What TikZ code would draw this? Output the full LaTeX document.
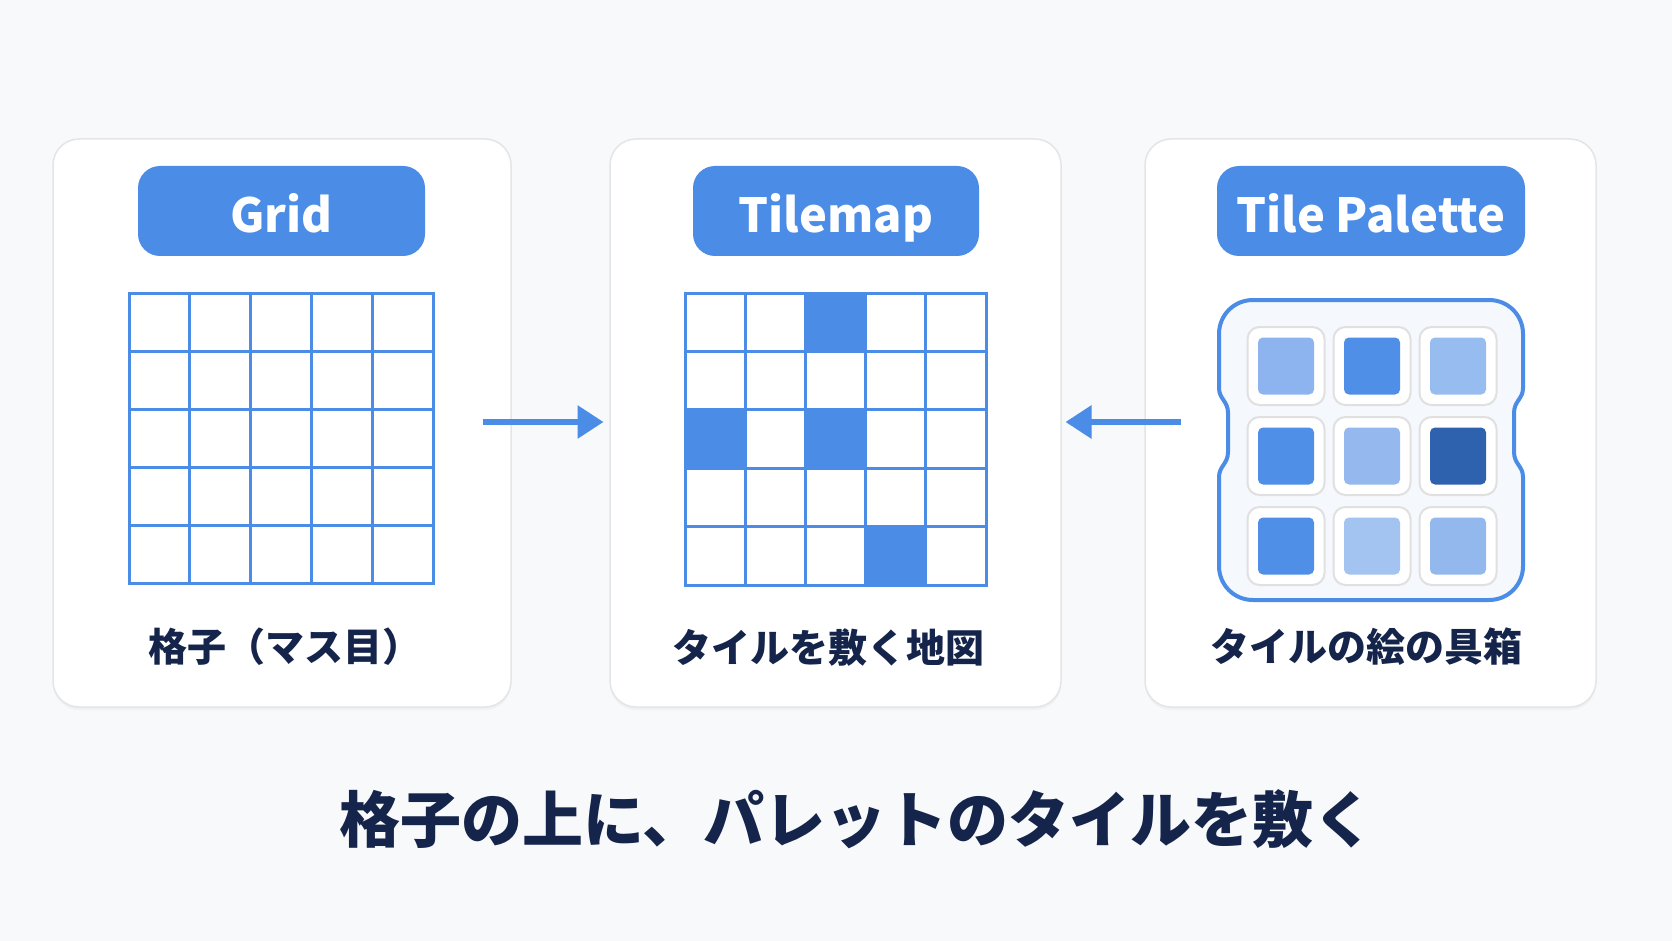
\documentclass[tikz,border=0pt]{standalone}
\usepackage{fontspec}
\setsansfont{Noto Sans}
\newfontfamily\jpfont{Noto Sans CJK JP}
\usepackage{xcolor}
\usetikzlibrary{arrows.meta, positioning, shadows}

\definecolor{bgcol}{HTML}{F8F9FA}
\definecolor{cardline}{HTML}{E3E5E9}
\definecolor{tileblue}{HTML}{4A8CE6}
\definecolor{navytext}{HTML}{14244A}
\definecolor{palfill}{HTML}{F5F8FD}
\definecolor{tileA}{HTML}{8DB4EF}
\definecolor{tileB}{HTML}{4F8FE8}
\definecolor{tileC}{HTML}{97BCEF}
\definecolor{tileD}{HTML}{95B9EE}
\definecolor{tileE}{HTML}{2E61AE}
\definecolor{tileF}{HTML}{A3C3F1}
\definecolor{tileG}{HTML}{93B8EE}

\begin{document}
\begin{tikzpicture}[
                x=1pt, y=-1pt,
                card/.style={rectangle, rounded corners=26pt, draw=cardline, line width=1.5pt, fill=white, minimum height=568pt, drop shadow={opacity=0.06, shadow xshift=0pt, shadow yshift=-3pt}},
                pill/.style={rectangle, rounded corners=22pt, fill=tileblue, text=white, minimum height=90pt, text height=44pt, text depth=0pt, font=\jpfont\bfseries\fontsize{47}{52}\selectfont},
                gridbox/.style={rectangle, draw=tileblue, line width=3pt, inner sep=0pt},
                cell/.style={draw=tileblue, line width=3pt},
                caption/.style={text=navytext, font=\jpfont\bfseries\fontsize{39}{44}\selectfont},
                flow/.style={-{Triangle[length=26pt, width=32pt]}, draw=tileblue, line width=6pt},
                slot/.style={rectangle, rounded corners=12pt, draw=black!12, line width=2pt, fill=white, minimum width=77pt, minimum height=78pt},
                swatch/.style={rectangle, rounded corners=5pt, minimum width=56pt, minimum height=57pt}
                ]
                \useasboundingbox[fill=bgcol] (0,0) rectangle (1672,941);

                % Cards
                \node[card, minimum width=458pt] (gridcard) at (282,423) {};
                \node[card, minimum width=451pt] (mapcard) at (835.5,423) {};
                \node[card, minimum width=451pt] (palcard) at (1370.5,423) {};

                % Titles
                \node[pill, minimum width=287pt] (gridtitle) at (281.5,211) {Grid};
                \node[pill, minimum width=286pt] (maptitle) at (836,211) {Tilemap};
                \node[pill, minimum width=308pt] (paltitle) at (1371,211) {Tile Palette};

                % Empty grid
                \foreach \r in {0,...,4}
                  \foreach \c in {0,...,4}
                    \draw[cell] ({129+\c*60.8},{293+\r*58}) rectangle +(60.8,58);
                \node[gridbox, minimum width=304pt, minimum height=290pt] (grid) at (281,438) {};

                % Tilemap with placed tiles
                \foreach \c/\r in {2/0, 0/2, 2/2, 3/4}
                  \fill[tileblue] ({685+\c*60.2},{293+\r*58.4}) rectangle +(60.2,58.4);
                \foreach \r in {0,...,4}
                  \foreach \c in {0,...,4}
                    \draw[cell] ({685+\c*60.2},{293+\r*58.4}) rectangle +(60.2,58.4);
                \node[gridbox, minimum width=301pt, minimum height=292pt] (map) at (835.5,439) {};

                % Palette frame (notched on both sides)
                \draw[draw=tileblue, line width=4pt, fill=palfill]
                  (1253,300) -- (1489,300) .. controls (1508,300) and (1523,315) .. (1523,334)
                  -- (1523,388) .. controls (1523,399) and (1514,401) .. (1514,413)
                  -- (1514,452) .. controls (1514,464) and (1523,466) .. (1523,477)
                  -- (1523,566) .. controls (1523,585) and (1508,600) .. (1489,600)
                  -- (1253,600) .. controls (1234,600) and (1219,585) .. (1219,566)
                  -- (1219,477) .. controls (1219,466) and (1228,464) .. (1228,452)
                  -- (1228,413) .. controls (1228,401) and (1219,399) .. (1219,388)
                  -- (1219,334) .. controls (1219,315) and (1234,300) .. (1253,300) -- cycle;
                \node[minimum width=304pt, minimum height=300pt] (palette) at (1371,450) {};

                % Palette tiles
                \foreach \col [count=\i from 0] in {tileA, tileB, tileC, tileB, tileD, tileE, tileB, tileF, tileG} {
                  \pgfmathtruncatemacro{\cc}{mod(\i,3)}
                  \pgfmathtruncatemacro{\rr}{int(\i/3)}
                  \node[slot] (slot\i) at ({1286+\cc*86},{366+\rr*90}) {};
                  \node[swatch, fill=\col] at (slot\i) {};
                }

                % Arrows
                \coordinate (arrowrow) at (0,422);
                \draw[flow, shorten <=48pt, shorten >=80pt] (grid.east |- arrowrow) -- (map.west |- arrowrow);
                \draw[flow, shorten <=38pt, shorten >=78pt] (palette.west |- arrowrow) -- (map.east |- arrowrow);

                % Captions
                \node[caption] (gridcap) at (285,647) {格子（マス目）};
                \node[caption] (mapcap) at (828,647) {タイルを敷く地図};
                \node[caption] (palcap) at (1366,647) {タイルの絵の具箱};

                % Summary line
                \node[text=navytext, font=\jpfont\bfseries\fontsize{61}{66}\selectfont] (summary) at (857,819) {格子の上に、パレットのタイルを敷く};

                \end{tikzpicture}
\end{document}
